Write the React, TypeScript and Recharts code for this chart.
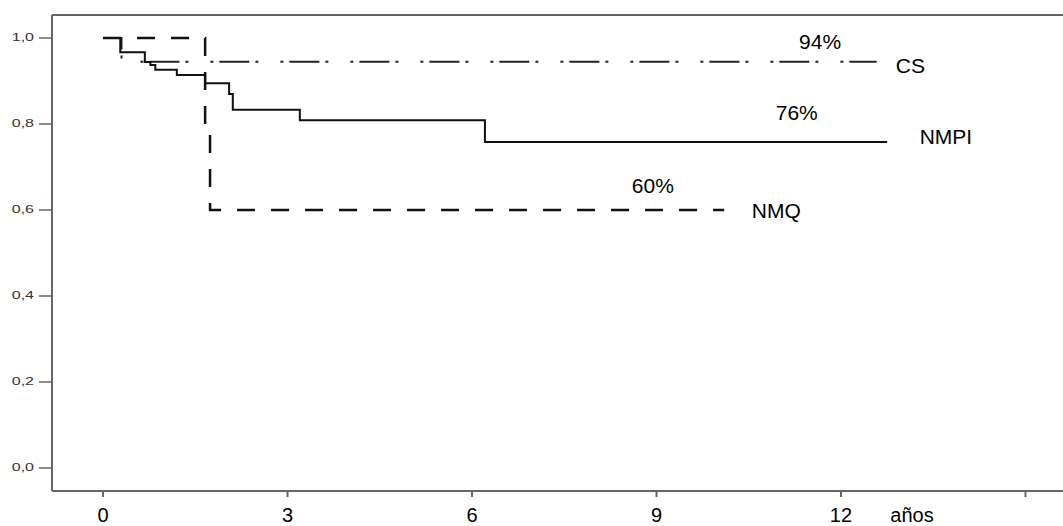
import React from 'react';
import { LineChart, Line, XAxis, YAxis, ReferenceLine, ReferenceDot } from 'recharts';

// Kaplan-Meier step curves (time in years, survival proportion)
const NMPI_TIMES = [0, 0.28, 0.68, 0.77, 0.85, 1.2, 1.66, 2.05, 2.11, 3.2, 6.21, 12.75];
const NMPI_SURV = [1, 0.967, 0.944, 0.937, 0.926, 0.914, 0.895, 0.87, 0.833, 0.809, 0.758, 0.758];

const CS_TIMES = [0, 0.3, 12.58];
const CS_SURV = [1, 0.945, 0.945];

const NMQ_TIMES = [0, 1.66, 1.74, 10.1];
const NMQ_SURV = [1, 0.8, 0.6, 0.6];

const X_TICKS = [0, 3, 6, 9, 12, 15];
const X_TICK_LABELS = ['0', '3', '6', '9', '12', ''];
const Y_TICKS = [0, 0.2, 0.4, 0.6, 0.8, 1.0];
const Y_TICK_LABELS = ['0,0', '0,2', '0,4', '0,6', '0,8', '1,0'];

const X_DOMAIN: [number, number] = [-0.83, 15.61];
const Y_DOMAIN: [number, number] = [-0.0535, 1.0535];

const ANNOT_TEXT = ['94%', 'CS', '76%', 'NMPI', '60%', 'NMQ'];
const ANNOT_T = [11.66, 12.89, 11.28, 13.28, 8.94, 10.55];
const ANNOT_V = [0.991, 0.937, 0.826, 0.77, 0.656, 0.6];
const ANNOT_ANCHOR = ['middle', 'start', 'middle', 'start', 'middle', 'start'];

const build = (ts: number[], ss: number[]) => ts.map((t, i) => ({ t, s: ss[i] }));
const nmpiData = build(NMPI_TIMES, NMPI_SURV);
const csData = build(CS_TIMES, CS_SURV);
const nmqData = build(NMQ_TIMES, NMQ_SURV);

const FONT = '"Liberation Sans", Arial, sans-serif';
const AXIS = '#666';

const XTick = (props: any) => {
  const { x, y, payload } = props;
  const idx = X_TICKS.indexOf(payload.value);
  const label = idx >= 0 ? X_TICK_LABELS[idx] : '';
  return (
    <text x={x} y={y + 16} textAnchor="middle" dominantBaseline="central" fontSize={20} fontFamily={FONT} fill="#000">
      {label}
    </text>
  );
};

const YTick = (props: any) => {
  const { x, y, payload } = props;
  const idx = Y_TICKS.findIndex((v) => Math.abs(v - payload.value) < 1e-6);
  const label = idx >= 0 ? Y_TICK_LABELS[idx] : '';
  return (
    <text
      transform={`translate(${x - 3},${y}) scale(1.6,1)`}
      x={0}
      y={0}
      textAnchor="end"
      dominantBaseline="central"
      fontSize={10}
      fontFamily={FONT}
      fill="#333"
    >
      {label}
    </text>
  );
};

export default function App() {
  return (
    <div style={{ position: 'absolute', left: 0, top: 0, background: '#fff' }}>
      <LineChart width={1063} height={526} margin={{ top: 15, right: 0, left: 0, bottom: 0 }}>
        <XAxis
          type="number"
          dataKey="t"
          domain={X_DOMAIN}
          ticks={X_TICKS}
          allowDataOverflow
          height={35}
          tickSize={6}
          stroke={AXIS}
          strokeWidth={2}
          tickLine={{ stroke: AXIS, strokeWidth: 2 }}
          tick={<XTick />}
          interval={0}
          label={(p: any) => (
            <text x={912} y={515} textAnchor="middle" dominantBaseline="central" fontSize={20} fontFamily={FONT} fill="#000">
              años
            </text>
          )}
        />
        <YAxis
          type="number"
          dataKey="s"
          domain={Y_DOMAIN}
          ticks={Y_TICKS}
          allowDataOverflow
          width={52}
          tickSize={13}
          stroke={AXIS}
          strokeWidth={2}
          tickLine={{ stroke: AXIS, strokeWidth: 1.5 }}
          tick={<YTick />}
          interval={0}
        />
        <ReferenceLine y={Y_DOMAIN[1]} stroke={AXIS} strokeWidth={2} ifOverflow="visible" />
        <Line
          data={csData}
          dataKey="s"
          type="stepAfter"
          stroke="#222"
          strokeWidth={2}
          strokeDasharray="30 6 3 22 3 6"
          dot={false}
          isAnimationActive={false}
        />
        <Line
          data={nmpiData}
          dataKey="s"
          type="stepAfter"
          stroke="#111"
          strokeWidth={2}
          dot={false}
          isAnimationActive={false}
        />
        <Line
          data={nmqData}
          dataKey="s"
          type="stepAfter"
          stroke="#111"
          strokeWidth={2.5}
          strokeDasharray="18 16"
          dot={false}
          isAnimationActive={false}
        />
        {ANNOT_TEXT.map((txt, i) => (
          <ReferenceDot
            key={txt}
            x={ANNOT_T[i]}
            y={ANNOT_V[i]}
            r={0}
            ifOverflow="visible"
            label={(p: any) => {
              const vb = p.viewBox || {};
              const cx = vb.x + (vb.width || 0) / 2;
              const cy = vb.y + (vb.height || 0) / 2;
              return (
                <text
                  x={cx}
                  y={cy}
                  textAnchor={ANNOT_ANCHOR[i] as any}
                  dominantBaseline="central"
                  fontSize={21}
                  fontFamily={FONT}
                  fill="#000"
                >
                  {txt}
                </text>
              );
            }}
          />
        ))}
      </LineChart>
    </div>
  );
}
